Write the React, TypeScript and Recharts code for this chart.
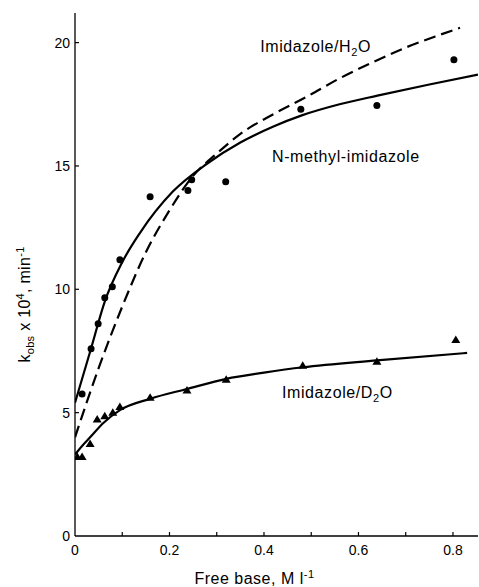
import React from 'react';
import { ComposedChart, Line, Scatter, XAxis, YAxis, ReferenceDot } from 'recharts';

// ---- axes ----
const xTicks = [0, 0.1, 0.2, 0.3, 0.4, 0.5, 0.6, 0.7, 0.8];
const xTickLabels = ['0', '', '0.2', '', '0.4', '', '0.6', '', '0.8'];
const yTicks = [0, 5, 10, 15, 20];
const yTickLabels = ['0', '5', '10', '15', '20'];
const xDomain = [0, 0.853];
const yDomain = [0, 21.2];

// ---- data: circles ----
const circleX = [0.015, 0.034, 0.049, 0.063, 0.079, 0.095, 0.159, 0.239, 0.247, 0.319, 0.478, 0.639, 0.802];
const circleY = [5.76, 7.59, 8.6, 9.66, 10.1, 11.2, 13.75, 14.0, 14.44, 14.36, 17.3, 17.45, 19.3];

// ---- data: triangles (Imidazole/D2O) ----
const triX = [0.005, 0.015, 0.032, 0.047, 0.063, 0.08, 0.095, 0.159, 0.237, 0.32, 0.482, 0.639, 0.806];
const triY = [3.2, 3.2, 3.73, 4.72, 4.85, 5.0, 5.23, 5.6, 5.9, 6.33, 6.9, 7.06, 7.95];

// ---- curves ----
const nMethylX = [0, 0.034, 0.063, 0.1, 0.138, 0.207, 0.28, 0.35, 0.42, 0.48, 0.56, 0.64, 0.75, 0.853];
const nMethylY = [5.4, 7.6, 9.5, 11.1, 12.3, 13.96, 15.1, 15.95, 16.6, 17.05, 17.5, 17.85, 18.3, 18.7];

const h2oX = [0, 0.05, 0.1, 0.15, 0.2, 0.25, 0.3, 0.35, 0.42, 0.49, 0.56, 0.63, 0.7, 0.77, 0.815];
const h2oY = [4.0, 6.8, 9.3, 11.5, 13.2, 14.6, 15.5, 16.3, 17.1, 17.8, 18.55, 19.2, 19.8, 20.3, 20.6];

const d2oX = [0, 0.015, 0.032, 0.06, 0.095, 0.159, 0.237, 0.32, 0.4, 0.482, 0.639, 0.83];
const d2oY = [3.3, 3.65, 4.0, 4.58, 5.1, 5.56, 5.96, 6.37, 6.62, 6.84, 7.12, 7.42];

const toPoints = (xs: number[], ys: number[]) => xs.map((x, i) => ({ x, y: ys[i] }));

const circleData = toPoints(circleX, circleY);
const triData = toPoints(triX, triY);
const nMethylData = toPoints(nMethylX, nMethylY);
const h2oData = toPoints(h2oX, h2oY);
const d2oData = toPoints(d2oX, d2oY);

const FONT = '"Liberation Sans", Arial, sans-serif';

function XTick(props: any) {
  const { x, y, payload } = props;
  const i = xTicks.indexOf(payload.value);
  const label = i >= 0 ? xTickLabels[i] : '';
  return (
    <g>
      {payload.value !== 0 && (
        <line x1={x} x2={x} y1={y} y2={y - 4} stroke="#000" strokeWidth={1.2} />
      )}
      <text x={x} y={y + 19} textAnchor="middle" fontSize={14} fontFamily={FONT} fill="#000">
        {label}
      </text>
    </g>
  );
}

function YTick(props: any) {
  const { x, y, payload } = props;
  const i = yTicks.indexOf(payload.value);
  const label = i >= 0 ? yTickLabels[i] : '';
  return (
    <g>
      {payload.value !== 0 && (
        <line x1={x} x2={x + 4} y1={y} y2={y} stroke="#000" strokeWidth={1.2} />
      )}
      <text x={x - 5} y={y + 5} textAnchor="end" fontSize={14} fontFamily={FONT} fill="#000">
        {label}
      </text>
    </g>
  );
}

function XLabel(props: any) {
  const vb = props.viewBox || { x: 75, y: 536, width: 403, height: 51 };
  const cx = vb.x + vb.width / 2 - 22;
  const cy = vb.y + 48;
  return (
    <text x={cx} y={cy} textAnchor="middle" fontSize={16} fontFamily={FONT} letterSpacing={0.5} fill="#000">
      Free  base, M l
      <tspan dy={-6} fontSize={11}>-1</tspan>
    </text>
  );
}

function YLabel(props: any) {
  const vb = props.viewBox || { x: 0, y: 13, width: 75, height: 523 };
  const cx = vb.x + 30;
  const cy = vb.y + vb.height / 2 + 30;
  return (
    <text
      transform={`translate(${cx},${cy}) rotate(-90)`}
      textAnchor="middle"
      fontSize={16}
      fontFamily={FONT}
      letterSpacing={0.3}
      fill="#000"
    >
      k<tspan dy={4} fontSize={11}>obs</tspan>
      <tspan dy={-4}> x 10</tspan>
      <tspan dy={-6} fontSize={11}>4</tspan>
      <tspan dy={6}>, min</tspan>
      <tspan dy={-6} fontSize={11}>-1</tspan>
    </text>
  );
}

function AnnLabel(props: any) {
  const { viewBox, pre, sub, post } = props;
  const x = viewBox ? viewBox.x : 0;
  const y = viewBox ? viewBox.y : 0;
  return (
    <text x={x} y={y} fontSize={16} fontFamily={FONT} letterSpacing={0.6} fill="#000">
      {pre}
      {sub ? <tspan dy={4} fontSize={11}>{sub}</tspan> : null}
      {post ? <tspan dy={sub ? -4 : 0}>{post}</tspan> : null}
    </text>
  );
}

const renderCircle = (props: any) => {
  const { cx, cy } = props;
  return <circle cx={cx} cy={cy} r={3.5} fill="#000" />;
};

const renderTriangle = (props: any) => {
  const { cx, cy } = props;
  return (
    <polygon
      points={`${cx},${cy - 4.5} ${cx - 4.5},${cy + 3} ${cx + 4.5},${cy + 3}`}
      fill="#000"
    />
  );
};

// label anchor positions (data coords)
const annH2O = { x: 0.392, y: 19.6 };
const annNMe = { x: 0.417, y: 15.17 };
const annD2O = { x: 0.438, y: 5.6 };

export default function App() {
  return (
    <div style={{ position: 'absolute', left: 0, top: 0, background: '#fff' }}>
      <ComposedChart
        width={479}
        height={587}
        margin={{ top: 13, right: 1, bottom: 0, left: 0 }}
      >
        <XAxis
          type="number"
          dataKey="x"
          domain={xDomain}
          ticks={xTicks}
          interval={0}
          allowDataOverflow
          tick={<XTick />}
          tickLine={false}
          tickSize={0}
          tickMargin={0}
          height={51}
          axisLine={{ stroke: '#000', strokeWidth: 1.5 }}
          label={<XLabel />}
        />
        <YAxis
          type="number"
          dataKey="y"
          domain={yDomain}
          ticks={yTicks}
          interval={0}
          allowDataOverflow
          tick={<YTick />}
          tickLine={false}
          tickSize={0}
          tickMargin={0}
          width={75}
          axisLine={{ stroke: '#000', strokeWidth: 1.3 }}
          label={<YLabel />}
        />
        <Line
          data={h2oData}
          dataKey="y"
          type="monotone"
          stroke="#000"
          strokeWidth={2.2}
          strokeDasharray="12 6"
          dot={false}
          activeDot={false}
          isAnimationActive={false}
        />
        <Line
          data={nMethylData}
          dataKey="y"
          type="monotone"
          stroke="#000"
          strokeWidth={2.2}
          dot={false}
          activeDot={false}
          isAnimationActive={false}
        />
        <Line
          data={d2oData}
          dataKey="y"
          type="monotone"
          stroke="#000"
          strokeWidth={2.2}
          dot={false}
          activeDot={false}
          isAnimationActive={false}
        />
        <Scatter data={circleData} dataKey="y" shape={renderCircle} isAnimationActive={false} />
        <Scatter data={triData} dataKey="y" shape={renderTriangle} isAnimationActive={false} />
        <ReferenceDot
          x={annH2O.x}
          y={annH2O.y}
          r={0}
          fill="none"
          stroke="none"
          label={<AnnLabel pre="Imidazole/H" sub="2" post="O" />}
        />
        <ReferenceDot
          x={annNMe.x}
          y={annNMe.y}
          r={0}
          fill="none"
          stroke="none"
          label={<AnnLabel pre="N-methyl-imidazole" />}
        />
        <ReferenceDot
          x={annD2O.x}
          y={annD2O.y}
          r={0}
          fill="none"
          stroke="none"
          label={<AnnLabel pre="Imidazole/D" sub="2" post="O" />}
        />
      </ComposedChart>
    </div>
  );
}
